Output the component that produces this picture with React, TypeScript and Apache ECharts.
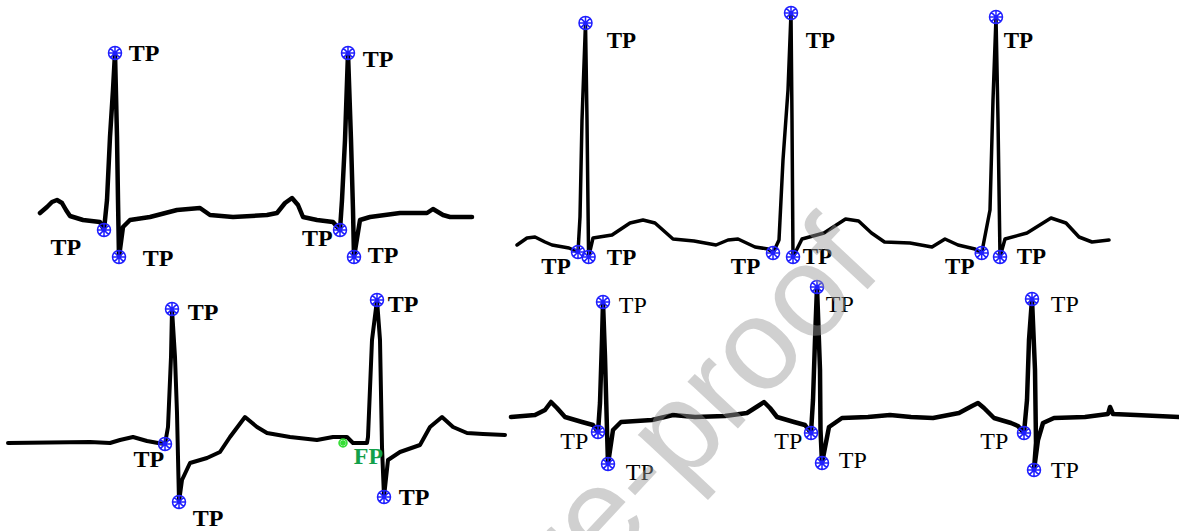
import React, { useEffect, useRef } from "react";
import * as echarts from "echarts";

// ---- Panel A (top-left): [sample, amplitude]
const traceA: number[][] = [[40,67],[47,73],[52,78],[57,80],[62,77],[66,70],[70,64],[83,60],[100,58],[104,50],[107,80],[110,143],[113,190],[115,227],[117,143],[118,80],[119,23],[123,53],[130,60],[150,63],[177,70],[200,72],[210,65],[233,63],[267,65],[277,67],[285,77],[292,82],[298,75],[303,63],[317,60],[333,58],[340,50],[342,80],[345,140],[348,227],[351,140],[353,70],[354,23],[360,60],[370,63],[400,67],[427,67],[433,71],[443,65],[450,63],[472,63]];
const tpA: number[][] = [[104,50],[115,227],[119,23],[340,50],[348,227],[354,23]];

// ---- Panel B (top-right)
const traceB: number[][] = [[17,35],[27,42],[35,43],[45,38],[52,35],[69,32],[78,28],[80,63],[82,160],[85.5,257],[87,160],[88.6,23],[93,42],[112,45],[130,57],[143,60],[155,57],[173,41],[194,39],[216,35],[228,40],[238,41],[255,33],[268,31],[273,27],[279,40],[283,120],[288,190],[291,267],[292,160],[293,23],[302,41],[324,47],[345.6,61],[358.6,59],[371.5,47],[384.5,38],[410,37],[432,33],[445,41],[458,35],[475,31],[481.7,27],[490,70],[493,180],[496,263],[498,160],[500,23],[505,41],[527,47],[551,62],[566,57],[579,43],[592,38],[609,40]];
const tpB: number[][] = [[78,28],[85.5,257],[88.6,23],[273,27],[291,267],[293,23],[481.7,27],[496,263],[500,23]];

// ---- Panel C (bottom-left)
const traceC: number[][] = [[8,88],[90,89],[110,88],[120,91],[133,94],[147,90],[158,88],[165,87],[168,104],[171,174],[172,222],[175,174],[177,118],[179,29],[182,51],[190,68],[207,73],[220,79],[230,94],[245,114],[257,104],[267,98],[290,94],[317,91],[333,94],[347,94],[353,88],[367,88],[368,94],[372,191],[377,231],[380,191],[382,84],[384,34],[388,71],[400,79],[420,86],[430,104],[442,114],[453,104],[467,98],[483,97],[505,96]];
const tpC: number[][] = [[165,87],[172,222],[179,29],[377,231],[384,34]];
const fpC: number[][] = [[343,88]];

// ---- Panel D (bottom-right)
const traceD: number[][] = [[11,114],[35,116],[45,121],[51,129],[57,123],[65,114],[82,109],[93,106],[98,99],[100,128],[102,191],[103,229],[105,174],[107,101],[108,67],[113,101],[121,109],[152,111],[173,116],[195,114],[225,115],[247,118],[258,125],[264,129],[270,123],[277,114],[294,109],[305,106],[311,98],[313,131],[315,191],[317,244],[320,161],[320.5,101],[322,68],[329,104],[342,113],[368,114],[390,116],[411,114],[433,113],[459,118],[472,125],[478,128],[484,123],[494,113],[511,108],[518,105],[524,98],[527,131],[529,191],[532,232],[535,161],[536,88],[534,61],[538,91],[543,108],[554,113],[585,114],[608,117],[610,124],[613,117],[636,116],[679,114]];
const tpD: number[][] = [[98,99],[103,229],[108,67],[311,98],[317,244],[322,68],[524,98],[532,232],[534,61]];

const TP_TEXT = "TP";
const FP_TEXT = "FP";
const WATERMARK = "Journal Pre-proof";

// label placement (style): [side, dx, dy]
type Place = [string, number, number];
const placeA: Place[] = [["left",-15.5,17],["right",6.5,0],["right",16.5,1],["left",0,8],["right",7.5,6],["right",6.5,-2]];
const placeB: Place[] = [["left",0,14],["right",14,17],["right",11,0],["left",-5.5,13],["right",7.5,27],["right",2.5,-1],["left",0,13],["right",0.5,23],["right",9.5,-1]];
const placeC: Place[] = [["left",6.5,15],["right",8.5,3],["right",6.5,16],["right",3.5,4],["right",7.5,0]];
const placeFP: Place[] = [["right",6,13]];
const placeD: Place[] = [["left",-2.5,9],["right",8.5,3],["right",10.5,8],["left",-1.5,8],["right",1.5,17],["right",9.5,-3],["left",-8.5,8],["right",11.5,5],["right",9.5,0]];

const MARKER =
  "path://M0,-10A10,10,0,1,1,0,10A10,10,0,1,1,0,-10M0,-10L0,10M-10,0L10,0M-7.07,-7.07L7.07,7.07M-7.07,7.07L7.07,-7.07";

const panels = [
  { left: 0, top: 0, width: 500, height: 280, trace: traceA, tp: tpA, place: placeA, bold: true, fs: 24, lw: 4.5 },
  { left: 500, top: 0, width: 679, height: 280, trace: traceB, tp: tpB, place: placeB, bold: true, fs: 23, lw: 3.5 },
  { left: 0, top: 280, width: 505, height: 251, trace: traceC, tp: tpC, place: placeC, bold: true, fs: 24, lw: 4 },
  { left: 500, top: 270, width: 679, height: 261, trace: traceD, tp: tpD, place: placeD, bold: false, fs: 24, lw: 4.5 },
];

const SERIF = '"Liberation Serif", "Times New Roman", serif';

function markerData(pts: number[][], place: Place[], size: number) {
  return pts.map((p, i) => ({
    value: p,
    label: {
      position: place[i][0],
      distance: 0,
      offset: [place[i][1], place[i][2]],
    },
    symbolSize: size,
  }));
}

export default function App() {
  const ref = useRef<HTMLDivElement>(null);
  useEffect(() => {
    document.body.style.margin = "0";
    if (!ref.current) return;
    const chart = echarts.init(ref.current, null, { renderer: "svg" });
    const grid: any[] = [];
    const xAxis: any[] = [];
    const yAxis: any[] = [];
    const series: any[] = [];
    panels.forEach((p, i) => {
      grid.push({ left: p.left, top: p.top, width: p.width, height: p.height });
      xAxis.push({ type: "value", gridIndex: i, min: 0, max: p.width, show: false });
      yAxis.push({ type: "value", gridIndex: i, min: 0, max: p.height, show: false });
      series.push({
        type: "line",
        xAxisIndex: i,
        yAxisIndex: i,
        data: p.trace,
        showSymbol: false,
        symbol: "none",
        clip: false,
        lineStyle: { color: "#000", width: p.lw, join: "round", cap: "round" },
        z: 2,
      });
      series.push({
        type: "scatter",
        xAxisIndex: i,
        yAxisIndex: i,
        data: markerData(p.tp, p.place, 13),
        symbol: MARKER,
        clip: false,
        itemStyle: { color: "rgba(0,0,0,0)", borderColor: "#1f1fff", borderWidth: 1.5, opacity: 1 },
        emphasis: { disabled: true },
        label: {
          show: true,
          formatter: TP_TEXT,
          color: "#000",
          opacity: 1,
          fontFamily: SERIF,
          fontSize: p.fs,
          fontWeight: p.bold ? "bold" : "normal",
        },
        z: 3,
      });
    });
    series.push({
      type: "scatter",
      xAxisIndex: 2,
      yAxisIndex: 2,
      data: markerData(fpC, placeFP, 8),
      symbol: MARKER,
      clip: false,
      itemStyle: { color: "rgba(0,0,0,0)", borderColor: "#33dd33", borderWidth: 1.5, opacity: 1 },
      emphasis: { disabled: true },
      label: {
        show: true,
        formatter: FP_TEXT,
        color: "#12a04a",
        opacity: 1,
        fontFamily: SERIF,
        fontSize: 24,
        fontWeight: "bold",
      },
      z: 3,
    });

    chart.setOption({
      animation: false,
      backgroundColor: "#fff",
      grid,
      xAxis,
      yAxis,
      series,
      graphic: [
        {
          type: "text",
          x: 899,
          y: 285,
          rotation: 0.82,
          z: 100,
          silent: true,
          style: {
            text: WATERMARK,
            fontSize: 130,
            fontFamily: '"Liberation Sans", Arial, sans-serif',
            fill: "rgba(152,152,152,0.46)",
            align: "right",
            verticalAlign: "bottom",
          },
        },
      ],
    });
    return () => chart.dispose();
  }, []);
  return <div ref={ref} style={{ width: 1179, height: 531 }} />;
}
